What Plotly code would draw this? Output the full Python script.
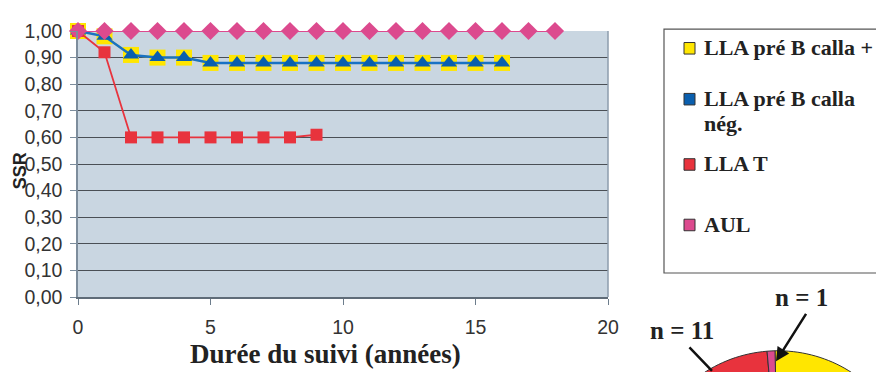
import math
import plotly.graph_objects as go

# ---------------- data ----------------
years_aul = list(range(0, 19))
ssr_aul = [1.00] * 19

years_calla = list(range(0, 17))
ssr_calla_pos = [1.00, 0.98, 0.91, 0.90, 0.90, 0.88, 0.88, 0.88, 0.88, 0.88,
                 0.88, 0.88, 0.88, 0.88, 0.88, 0.88, 0.88]
ssr_calla_neg = [1.00, 0.98, 0.91, 0.90, 0.90, 0.88, 0.88, 0.88, 0.88, 0.88,
                 0.88, 0.88, 0.88, 0.88, 0.88, 0.88, 0.88]

years_t = list(range(0, 10))
ssr_t = [1.00, 0.92, 0.60, 0.60, 0.60, 0.60, 0.60, 0.60, 0.60, 0.61]

y_ticks = [0.0, 0.1, 0.2, 0.3, 0.4, 0.5, 0.6, 0.7, 0.8, 0.9, 1.0]
x_ticks = [0, 5, 10, 15, 20]

legend_labels = ["LLA pré B calla +", "LLA pré B calla", "LLA T", "AUL"]
legend_label_2nd_line = "nég."
pie_labels = ["LLA pré B calla +", "LLA pré B calla nég.", "LLA T", "AUL"]
pie_counts = [55, 36, 11, 1]   # yellow / blue estimated; n = 11 and n = 1 from labels

# ---------------- style ----------------
YELLOW = "#ffe600"
BLUE = "#0a5fae"
RED = "#e8333d"
PINK = "#dc4a8e"
SERIF = "Liberation Serif"
SANS = "Liberation Sans"

OFF = 8                     # page body margin
W, H = 884 - OFF, 372 - OFF
PL, PR, PT, PB = 78, 608, 20, 297   # plot area in window pixels
L, R, T, B = PL - OFF, W - (PR - OFF), PT - OFF, H - (PB - OFF)
PW = PR - PL
PH = PB - PT


def px(x):
    return (x - PL) / PW


def py(y):
    return (PB - y) / PH


fig = go.Figure()

fig.add_trace(go.Scatter(
    x=years_calla, y=ssr_calla_pos, mode="lines+markers", name="LLA pré B calla +",
    line=dict(color=YELLOW, width=2),
    marker=dict(symbol="square", size=16, color=YELLOW), cliponaxis=False))
fig.add_trace(go.Scatter(
    x=years_calla, y=ssr_calla_neg, mode="lines+markers", name="LLA pré B calla nég.",
    line=dict(color="#1872c4", width=2.5),
    marker=dict(symbol="triangle-up", size=14, color=BLUE), cliponaxis=False))
fig.add_trace(go.Scatter(
    x=years_t, y=ssr_t, mode="lines+markers", name="LLA T",
    line=dict(color=RED, width=1.8),
    marker=dict(symbol="square", size=12, color=RED), cliponaxis=False))
fig.add_trace(go.Scatter(
    x=years_aul, y=ssr_aul, mode="lines+markers", name="AUL",
    line=dict(color=PINK, width=1.8),
    marker=dict(symbol="diamond", size=14, color=PINK), cliponaxis=False))

shapes = []
annotations = []

# right border of plot area
shapes.append(dict(type="line", xref="paper", yref="paper", x0=1, x1=1, y0=0, y1=1,
                   line=dict(color="#8d9cac", width=1.5)))

# ---------- legend (drawn manually) ----------
shapes.append(dict(type="rect", xref="paper", yref="paper",
                   x0=px(664), x1=px(900), y0=py(18), y1=py(272),
                   line=dict(color="#555555", width=1.2), fillcolor="white", layer="below"))
leg_items = [(38, YELLOW, legend_labels[0]),
             (91, BLUE, legend_labels[1]),
             (159, RED, legend_labels[2]),
             (222, PINK, legend_labels[3])]
for ycen, col, lab in leg_items:
    shapes.append(dict(type="rect", xref="paper", yref="paper",
                       x0=px(684), x1=px(695), y0=py(ycen + 6), y1=py(ycen - 6),
                       fillcolor=col, line=dict(color="#333333", width=1)))
    annotations.append(dict(
        x=px(702), y=py(ycen - 1), xref="paper", yref="paper",
        text="<b>" + lab + "</b>", showarrow=False, xanchor="left", yanchor="middle",
        font=dict(family=SERIF, size=22, color="#222222")))
annotations.append(dict(
    x=px(702), y=py(116), xref="paper", yref="paper",
    text="<b>" + legend_label_2nd_line + "</b>", showarrow=False, xanchor="left",
    yanchor="middle", font=dict(family=SERIF, size=22, color="#222222")))

# ---------- partial pie (bottom right) ----------
cx, cy, rad = 778, 484, 131
total = sum(pie_counts)
pie_colors = [YELLOW, BLUE, RED, PINK]
start = 90 + 1.3  # degrees (math convention), slices run clockwise
angle = start
for cnt, col in zip(pie_counts, pie_colors):
    sweep = 360.0 * cnt / total
    a0 = angle
    a1 = angle - sweep
    n = max(4, int(abs(sweep) / 2))
    path = "M {:.4f},{:.4f} ".format(px(cx), py(cy))
    for i in range(n + 1):
        a = math.radians(a0 + (a1 - a0) * i / n)
        path += "L {:.4f},{:.4f} ".format(px(cx + rad * math.cos(a)), py(cy - rad * math.sin(a)))
    path += "Z"
    shapes.append(dict(type="path", xref="paper", yref="paper", path=path,
                       fillcolor=col, line=dict(color="#333333", width=1)))
    angle = a1

# arrows
annotations.append(dict(x=px(776), y=py(364), xref="paper", yref="paper",
                        ax=31, ay=-49, axref="pixel", ayref="pixel",
                        showarrow=True, arrowhead=2, arrowsize=1.1, arrowwidth=2.5,
                        arrowcolor="#111111", text=""))
annotations.append(dict(x=px(712), y=py(374), xref="paper", yref="paper",
                        ax=-24, ay=-25, axref="pixel", ayref="pixel",
                        showarrow=True, arrowhead=0, arrowwidth=2.5,
                        arrowcolor="#111111", text=""))
annotations.append(dict(x=px(801), y=py(298), xref="paper", yref="paper",
                        text="<b>n = 1</b>", showarrow=False,
                        xanchor="center", yanchor="middle",
                        font=dict(family=SERIF, size=25, color="#222222")))
annotations.append(dict(x=px(682), y=py(332), xref="paper", yref="paper",
                        text="<b>n = 11</b>", showarrow=False,
                        xanchor="center", yanchor="middle",
                        font=dict(family=SERIF, size=25, color="#222222")))

# axis titles
annotations.append(dict(x=px(20), y=py(166), xref="paper", yref="paper",
                        text="<b>SSR</b>", showarrow=False, textangle=-90,
                        xanchor="center", yanchor="middle",
                        font=dict(family=SANS, size=18, color="#222222")))
annotations.append(dict(x=px(325), y=py(356), xref="paper", yref="paper",
                        text="<b>Durée du suivi (années)</b>", showarrow=False,
                        xanchor="center", yanchor="middle",
                        font=dict(family=SERIF, size=27, color="#222222")))

fig.update_layout(
    width=W, height=H,
    margin=dict(l=L, r=R, t=T, b=B, pad=0),
    paper_bgcolor="white", plot_bgcolor="#c9d6e1",
    showlegend=False, separators=", ",
    shapes=shapes, annotations=annotations,
    xaxis=dict(range=[0, 20], tickvals=x_ticks, showgrid=False, zeroline=False,
               showline=True, linecolor="#5f6c78", linewidth=1.5,
               ticks="outside", ticklen=6, tickcolor="#6d7d8c",
               ticklabelstandoff=6,
               tickfont=dict(family=SANS, size=19.5, color="#333333")),
    yaxis=dict(range=[0, 1.0], tickvals=y_ticks, tickformat=".2f",
               showgrid=True, gridcolor="#4a4f55", gridwidth=1, zeroline=False,
               showline=True, linecolor="#7d8d9c", linewidth=1.5,
               ticks="outside", ticklen=6, tickcolor="#7d8d9c",
               ticklabelstandoff=4,
               tickfont=dict(family=SANS, size=19.5, color="#333333")),
)

fig.write_html("out.html")
